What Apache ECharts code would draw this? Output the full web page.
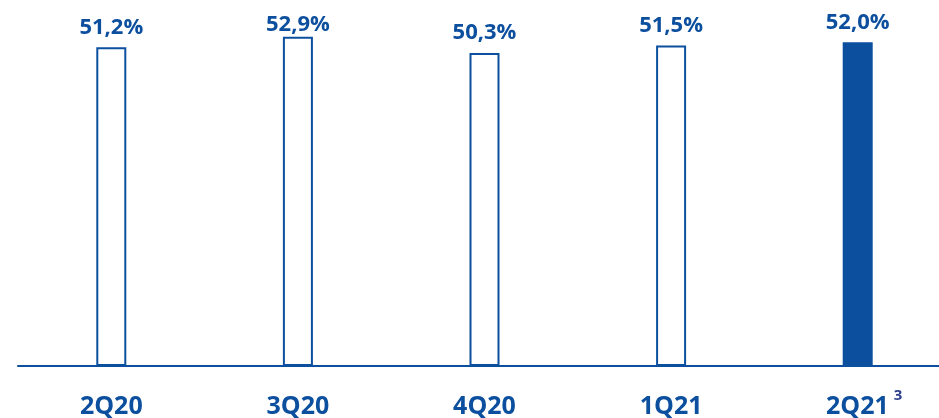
<!DOCTYPE html>
<html>
<head>
<meta charset="utf-8">
<script src="https://cdn.jsdelivr.net/npm/echarts@6/dist/echarts.min.js"></script>
<style>
  html, body { margin: 0; padding: 0; background: #fff; }
  #chart { width: 939px; height: 418px; }
</style>
</head>
<body>
<div id="chart"></div>
<script>
const quarters = ["2Q20", "3Q20", "4Q20", "1Q21", "2Q21"];
const ratios = [51.2, 52.9, 50.3, 51.5, 52.0];

const blue = "#0b4f9e";

const chart = echarts.init(document.getElementById("chart"));

const seriesData = ratios.map((v, i) => {
  const last = i === ratios.length - 1;
  return {
    value: v,
    itemStyle: last
      ? { color: blue, borderColor: blue, borderWidth: 2 }
      : { color: "#fff", borderColor: blue, borderWidth: 2 },
    label: { distance: i === 1 ? 1 : 9 },
  };
});

chart.setOption({
  animation: false,
  grid: { left: 18, top: 0, right: -12, bottom: 52, outerBoundsMode: "none" },
  xAxis: {
    type: "category",
    data: quarters,
    axisLine: { lineStyle: { color: blue, width: 2 } },
    axisTick: { show: false },
    axisLabel: {
      interval: 0,
      margin: 18,
      color: blue,
      fontFamily: "Open Sans",
      fontWeight: "bold",
      fontSize: 25,
      lineHeight: 46,
      formatter: (v) => (v === "2Q21" ? "{sp|}" + v + "{sup|3}" : v),
      rich: {
        sp: { width: 13 },
        sup: {
          fontSize: 15,
          fontWeight: "bold",
          fontFamily: "Open Sans",
          color: "#2f3f8a",
          lineHeight: 20,
          padding: [0, 0, 22, 5],
        },
      },
    },
  },
  yAxis: {
    type: "value",
    min: 0,
    max: 58.8,
    show: false,
  },
  series: [
    {
      type: "bar",
      barWidth: 30,
      data: seriesData,
      label: {
        show: true,
        position: "top",
        color: blue,
        fontFamily: "Open Sans",
        fontWeight: "bold",
        fontSize: 22,
        formatter: (p) => p.value.toFixed(1).replace(".", ",") + "%",
      },
    },
  ],
});
</script>
</body>
</html>
